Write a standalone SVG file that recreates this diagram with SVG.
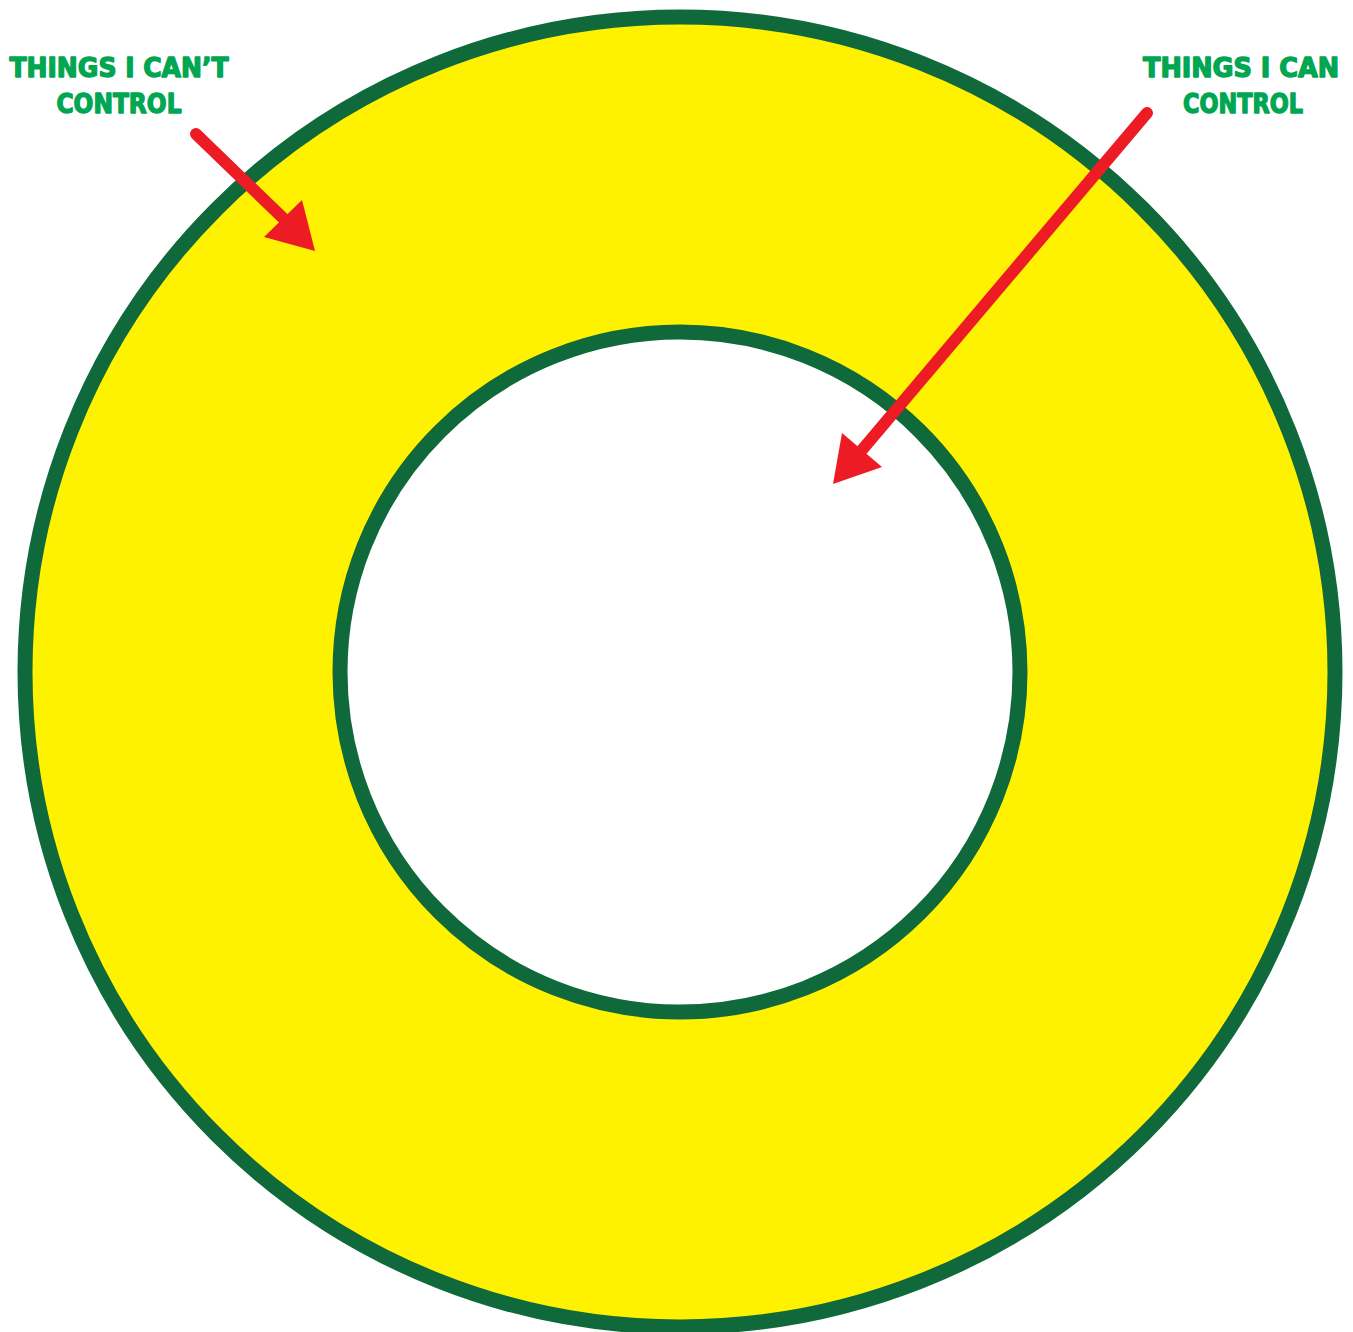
<svg xmlns="http://www.w3.org/2000/svg" width="1353" height="1332" viewBox="0 0 1353 1332">
<style>
.ring{stroke:#10693A;stroke-width:15}
.lbl{font-family:"DejaVu Sans","Liberation Sans",sans-serif;font-weight:bold;font-size:26px;fill:#00A651;stroke:#00A651;stroke-width:1.4;stroke-linejoin:round;text-anchor:middle}
.arr{stroke:#ED1C24;stroke-width:12;stroke-linecap:round;fill:none}
.head{fill:#ED1C24}
</style>
<rect width="1353" height="1332" fill="#FFFFFF"/>
<g id="outer-circle"><circle class="ring" cx="680" cy="672" r="655" fill="#FFF200"/></g>
<g id="inner-circle"><circle class="ring" cx="680" cy="672" r="340" fill="#FFFFFF"/></g>
<g id="label-cant">
<text class="lbl" x="119" y="77" textLength="219" lengthAdjust="spacingAndGlyphs">THINGS I CAN’T</text>
<text class="lbl" x="119" y="113" textLength="125" lengthAdjust="spacingAndGlyphs">CONTROL</text>
</g>
<g id="label-can">
<text class="lbl" x="1241" y="77" textLength="196" lengthAdjust="spacingAndGlyphs">THINGS I CAN</text>
<text class="lbl" x="1243" y="113" textLength="120" lengthAdjust="spacingAndGlyphs">CONTROL</text>
</g>
<g id="connectors">
<line class="arr" x1="196" y1="134" x2="285" y2="220"/>
<polygon class="head" points="302,200 264,237 315,251"/>
<line class="arr" x1="1147" y1="113" x2="862" y2="450"/>
<polygon class="head" points="842,433 882,467 833,484"/>
</g>
</svg>
